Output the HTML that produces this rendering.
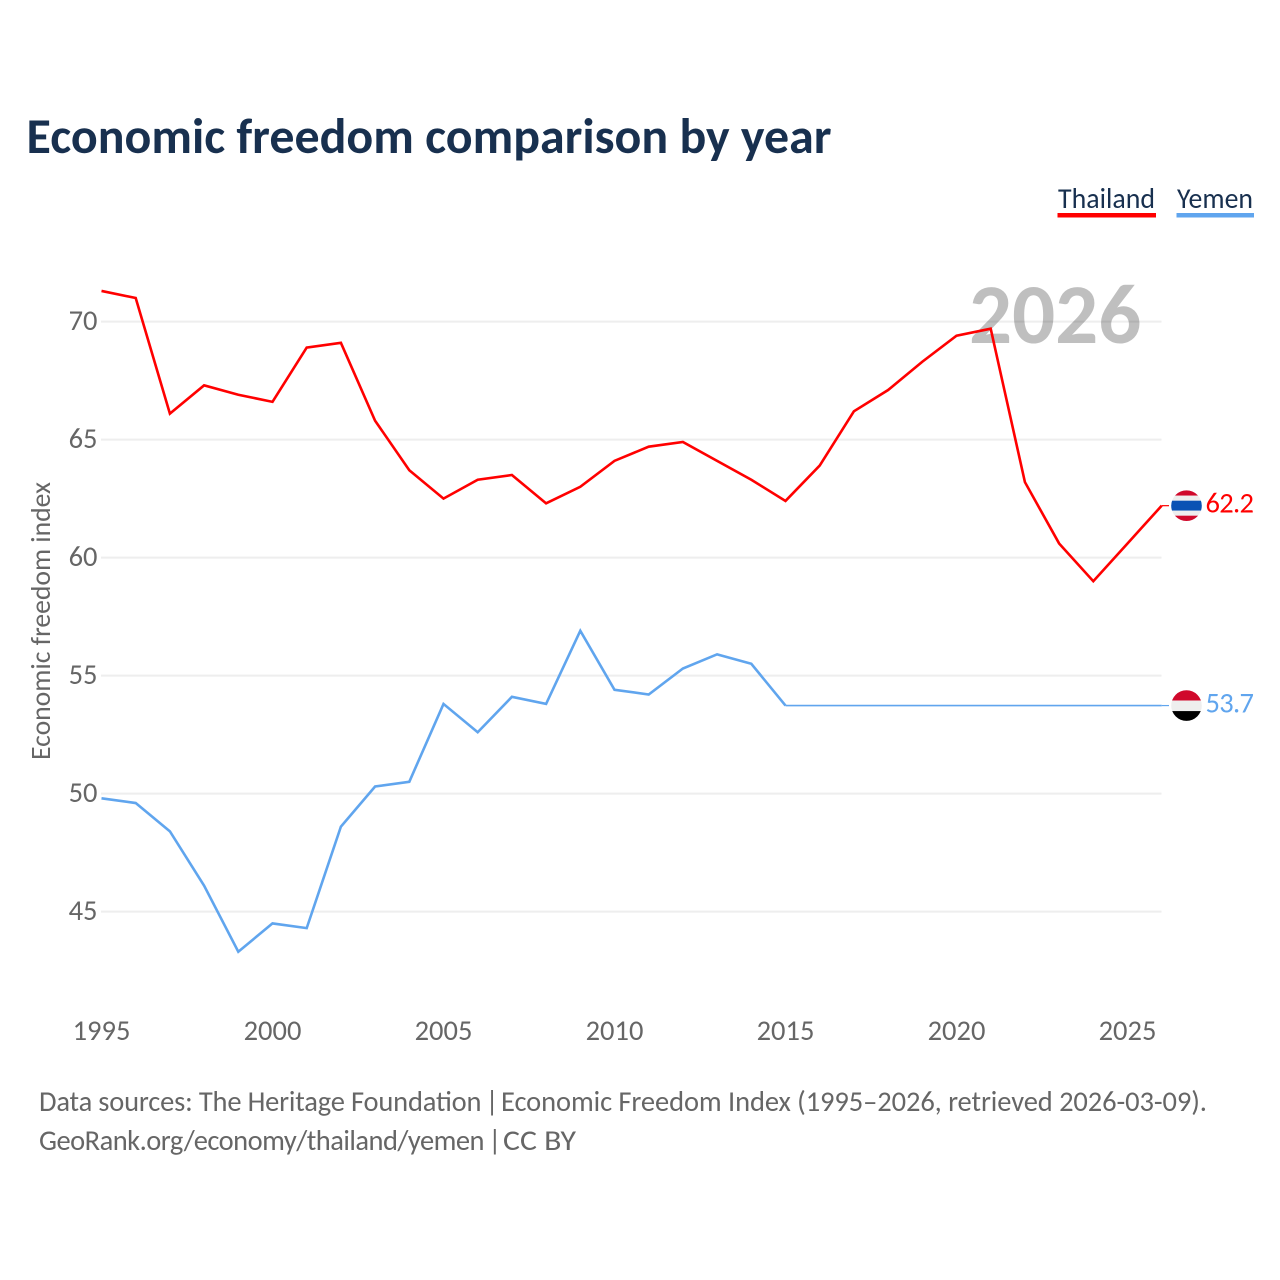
<!DOCTYPE html>
<html lang="en">
<head>
<meta charset="utf-8">
<title>Economic freedom comparison by year</title>
<style>
html,body{margin:0;padding:0;background:#fff;width:1280px;height:1280px;overflow:hidden}
svg{display:block}
text{font-family:"Carlito","Lato","Liberation Sans",sans-serif}
</style>
</head>
<body>
<svg id="chart" width="1280" height="1280" viewBox="0 0 1280 1280" xmlns="http://www.w3.org/2000/svg">
  <text x="26.5" y="153" font-size="50" font-weight="700" fill="#18304f" textLength="805" lengthAdjust="spacingAndGlyphs">Economic freedom comparison by year</text>
  <text x="1058" y="208" font-size="28.5" fill="#18304f" textLength="97" lengthAdjust="spacingAndGlyphs">Thailand</text>
  <rect x="1057.5" y="213" width="98.5" height="4.5" fill="#ff0000"/>
  <text x="1177" y="208" font-size="28.5" fill="#18304f" textLength="76" lengthAdjust="spacingAndGlyphs">Yemen</text>
  <rect x="1176.5" y="213" width="77.5" height="4.5" fill="#60a5ee"/>
  <g id="grid"></g>
  <text x="969" y="343" font-size="85" font-weight="700" fill="#000000" fill-opacity="0.25">2026</text>
  <g id="yticks"></g>
  <g id="xticks"></g>
  <text transform="translate(50,621) rotate(-90)" text-anchor="middle" font-size="27.7" fill="#666666" textLength="278" lengthAdjust="spacingAndGlyphs">Economic freedom index</text>
  <g id="series"></g>
  <g id="ends"></g>
  <text y="1111" font-size="28.5" fill="#666666"><tspan x="39" textLength="442.5" lengthAdjust="spacing">Data sources: The Heritage Foundation</tspan> <tspan x="485.5">|</tspan> <tspan x="501" textLength="706" lengthAdjust="spacing">Economic Freedom Index (1995–2026, retrieved 2026-03-09).</tspan></text>
  <text y="1150" font-size="28.5" fill="#666666"><tspan x="39" textLength="445.5" lengthAdjust="spacing">GeoRank.org/economy/thailand/yemen</tspan> <tspan x="488.2">|</tspan> <tspan x="503" textLength="73" lengthAdjust="spacingAndGlyphs">CC BY</tspan></text>
</svg>
<script>
var years = [1995,1996,1997,1998,1999,2000,2001,2002,2003,2004,2005,2006,2007,2008,2009,2010,2011,2012,2013,2014,2015,2016,2017,2018,2019,2020,2021,2022,2023,2024,2025,2026];
var thailand = [71.3,71.0,66.1,67.3,66.9,66.6,68.9,69.1,65.8,63.7,62.5,63.3,63.5,62.3,63.0,64.1,64.7,64.9,64.1,63.3,62.4,63.9,66.2,67.1,68.3,69.4,69.7,63.2,60.6,59.0,60.6,62.2];
var yemen = [49.8,49.6,48.4,46.1,43.3,44.5,44.3,48.6,50.3,50.5,53.8,52.6,54.1,53.8,56.9,54.4,54.2,55.3,55.9,55.5,53.73,53.73,53.73,53.73,53.73,53.73,53.73,53.73,53.73,53.73,53.73,53.73];
var yTickValues = [45,50,55,60,65,70];
var xTickValues = [1995,2000,2005,2010,2015,2020,2025];
var thailandLabel = "62.2";
var yemenLabel = "53.7";

var NS = "http://www.w3.org/2000/svg";
function xScale(year){ return 101.5 + (year - 1995) * 34.2; }
function yScale(v){ return 321.6 + (70 - v) * 23.6; }
function mk(tag, attrs, parent){
  var el = document.createElementNS(NS, tag);
  for (var k in attrs) el.setAttribute(k, attrs[k]);
  parent.appendChild(el);
  return el;
}
var gridG = document.getElementById("grid");
var yG = document.getElementById("yticks");
var xG = document.getElementById("xticks");
var seriesG = document.getElementById("series");
var endsG = document.getElementById("ends");

yTickValues.forEach(function(v){
  var line = mk("line", {x1:101, x2:1161.5, y1:yScale(v), y2:yScale(v), stroke:"#eeeeee", "stroke-width":2}, gridG);
  
  
  var t = mk("text", {x:97.5, y:yScale(v)+8.5, "text-anchor":"end", "font-size":28.5, fill:"#666666"}, yG);
  
  
  t.textContent = v;
});
xTickValues.forEach(function(y){
  var t = mk("text", {x:xScale(y), y:1040, "text-anchor":"middle", "font-size":28.5, fill:"#666666"}, xG);
  
  
  t.textContent = y;
});

function linePoints(values, from, to){
  var pts = [];
  for (var i = from; i <= to; i++) pts.push(xScale(years[i]).toFixed(2) + "," + yScale(values[i]).toFixed(2));
  return pts.join(" ");
}
function drawSeries(values, color, name){
  var end = values.length - 1;
  var flatFrom = end;
  while (flatFrom > 0 && values[flatFrom - 1] === values[end]) flatFrom--;
  var main = mk("polyline", {points:linePoints(values, 0, flatFrom), fill:"none", stroke:color, "stroke-width":2.6, "stroke-linejoin":"miter"}, seriesG);
  
  
  if (flatFrom < end) {
    var flat = mk("polyline", {points:linePoints(values, flatFrom, end), fill:"none", stroke:color, "stroke-width":1.6}, seriesG);
    
    
  }
}
drawSeries(thailand, "#ff0000", "thailand");
drawSeries(yemen, "#60a5ee", "yemen");

function endMarker(values, color, label, stripes, clipId, name){
  var last = values[values.length-1];
  var lx = xScale(years[years.length-1]);
  var ly = yScale(last);
  var cx = 1186.5, cy = ly;
  var tail = mk("line", {x1:lx, x2:1169, y1:ly, y2:ly, stroke:color, "stroke-width":1.2}, endsG);
  
  
  var g = mk("g", {}, endsG);
  
  
  var clip = mk("clipPath", {id:clipId}, g);
  mk("circle", {cx:cx, cy:cy, r:15.3}, clip);
  var inner = mk("g", {"clip-path":"url(#"+clipId+")"}, g);
  stripes.forEach(function(s){
    mk("rect", {x:cx-16, y:cy+s[0], width:32, height:s[1]-s[0], fill:s[2]}, inner);
  });
  var t = mk("text", {x:1205.5, y:ly+7, "font-size":28.5, fill:color}, endsG);
  
  
  t.setAttribute('textLength', '48.5');
  t.setAttribute('lengthAdjust', 'spacing');
  t.textContent = label;
}
endMarker(thailand, "#ff0000", thailandLabel, [[-16,-10,"#d0092b"],[-10,-5,"#eeeeee"],[-5,5,"#0a52b4"],[5,10,"#eeeeee"],[10,16,"#d0092b"]], "clip-th", "thailand");
endMarker(yemen, "#60a5ee", yemenLabel, [[-16,-5,"#d0092b"],[-5,5.5,"#eeeeee"],[5.5,16,"#000000"]], "clip-ye", "yemen");
</script>
</body>
</html>
